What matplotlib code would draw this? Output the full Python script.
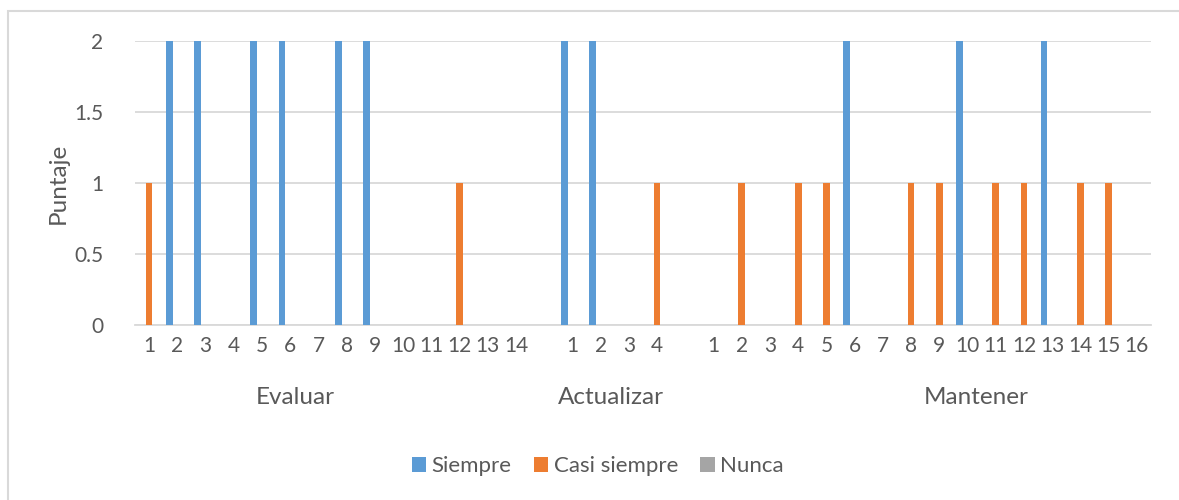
import matplotlib.pyplot as plt
import numpy as np
from matplotlib.patches import Rectangle
from matplotlib.transforms import blended_transform_factory
#
plt.rcParams['font.family'] = ['Lato', 'DejaVu Sans']
TXT = '#595959'
GRID = '#D9D9D9'
#
# ---- data ----------------------------------------------------------
groups = ['Evaluar', 'Actualizar', 'Mantener']
evaluar_items = [str(i) for i in range(1, 15)]
actualizar_items = [str(i) for i in range(1, 5)]
mantener_items = [str(i) for i in range(1, 17)]

evaluar_siempre = [0, 2, 2, 0, 2, 2, 0, 2, 2, 0, 0, 0, 0, 0]
evaluar_casi = [1, 0, 0, 0, 0, 0, 0, 0, 0, 0, 0, 1, 0, 0]
evaluar_nunca = [0] * 14

actualizar_siempre = [2, 2, 0, 0]
actualizar_casi = [0, 0, 0, 1]
actualizar_nunca = [0] * 4

mantener_siempre = [0, 0, 0, 0, 0, 2, 0, 0, 0, 2, 0, 0, 2, 0, 0, 0]
mantener_casi = [0, 1, 0, 1, 1, 0, 0, 1, 1, 0, 1, 1, 0, 1, 1, 0]
mantener_nunca = [0] * 16

series_names = ['Siempre', 'Casi siempre', 'Nunca']
colors = ['#5B9BD5', '#ED7D31', '#A5A5A5']
# -------------------------------------------------------------------

# one empty slot between the groups, like the excel sheet
labels = evaluar_items + [''] + actualizar_items + [''] + mantener_items
siempre = evaluar_siempre + [0] + actualizar_siempre + [0] + mantener_siempre
casi = evaluar_casi + [0] + actualizar_casi + [0] + mantener_casi
nunca = evaluar_nunca + [0] + actualizar_nunca + [0] + mantener_nunca
x = np.arange(len(labels))

fig = plt.figure(figsize=(11.79, 5.0), dpi=100)
fig.patches.append(Rectangle((8 / 1179, -0.1), 1.2, 1.1 - 11 / 500,
                             transform=fig.transFigure, fill=False,
                             edgecolor=GRID, lw=1.5))
ax = fig.add_axes([135 / 1179, 1 - 325 / 500, (1151 - 135) / 1179, (325 - 41) / 500])

w = 0.24
off = 0.29
for k, vals in enumerate([siempre, casi, nunca]):
    ax.bar(x + (k - 1) * off, vals, width=w, color=colors[k], label=series_names[k], zorder=3)

ax.set_xlim(-0.5, len(labels) - 0.5)
ax.set_ylim(0, 2)
ax.set_yticks([0, 0.5, 1, 1.5, 2])
ax.set_yticklabels(['0', '0.5', '1', '1.5', '2'])
ax.set_xticks(x)
ax.set_xticklabels(labels)
ax.tick_params(axis='both', length=0, colors=TXT, labelsize=15)
ax.tick_params(axis='y', pad=23)
ax.tick_params(axis='x', pad=8)
ax.grid(axis='y', color=GRID, lw=1.3, zorder=0)
for s in ['top', 'right', 'left']:
    ax.spines[s].set_visible(False)
ax.spines['bottom'].set_color(GRID)
ax.spines['bottom'].set_linewidth(1.3)

ax.set_ylabel('Puntaje', fontsize=17.5, color=TXT, labelpad=4)

tr = blended_transform_factory(ax.transData, ax.transAxes)
group_pos = [5.17, 16.35, 29.3]
for g, gx in zip(groups, group_pos):
    ax.text(gx, -0.254, g, transform=tr, ha='center', va='center', fontsize=17.5, color=TXT)

leg = fig.legend(loc='center', bbox_to_anchor=(0.507, 0.068), ncol=3, frameon=False,
                 fontsize=16, handlelength=0.65, handleheight=0.65,
                 handletextpad=0.25, columnspacing=1.0)
for t in leg.get_texts():
    t.set_color(TXT)

plt.savefig('out.png', dpi=100)
